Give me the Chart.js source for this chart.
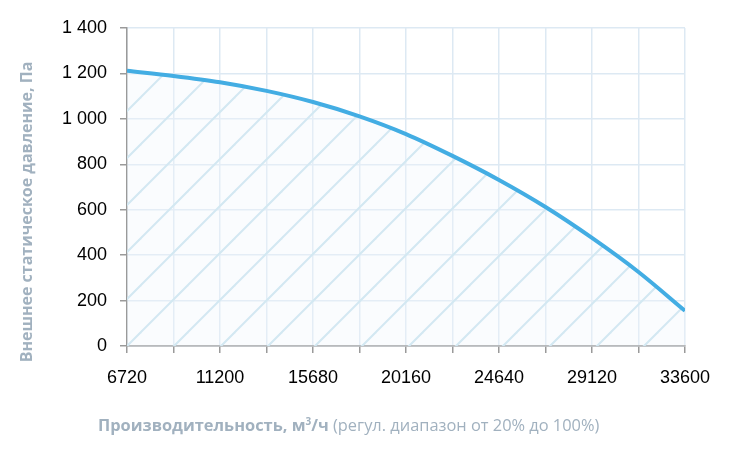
<!DOCTYPE html>
<html>
<head>
<meta charset="utf-8">
<script src="https://cdn.jsdelivr.net/npm/chart.js@4"></script>
<style>
  html, body { margin: 0; padding: 0; background: #fff; }
  #wrap { position: relative; width: 730px; height: 456px; }
  .axtitle {
    position: absolute; font-family: "Open Sans", sans-serif; font-size: 16.4px;
    color: #a1b1bf; white-space: nowrap;
  }
  #xtitle { left: 98px; top: 413px; }
  #xtitle sup { font-size: 10px; font-weight: 700; }
  #ytitle {
    left: -174px; top: 201px; width: 400px; height: 22px; line-height: 22px;
    text-align: center; font-weight: 700; font-size: 16px; transform: rotate(-90deg);
  }
</style>
</head>
<body>
<div id="wrap">
  <canvas id="grafica" width="730" height="456"></canvas>
  <div id="ytitle" class="axtitle">Внешнее статическое давление, Па</div>
  <div id="xtitle" class="axtitle"><b>Производительность, м<sup>3</sup>/ч</b> (регул. диапазон от 20% до 100%)</div>
</div>
<script>
const flow = [6720, 8960, 11200, 13440, 15680, 17920, 20160, 22400, 24640, 26880, 29120, 31360, 33600];
const pressure = [1212, 1189, 1161, 1123, 1074, 1011, 933, 837, 731, 612, 476, 326, 155];
const xLabels = [6720, 11200, 15680, 20160, 24640, 29120, 33600];

// hatch pattern for the area under the curve
function hatch() {
	const c = document.createElement('canvas');
	c.width = 47; c.height = 47;
	const g = c.getContext('2d');
	g.fillStyle = 'rgba(240,247,251,0.35)';
	g.fillRect(0, 0, 47, 47);
	g.strokeStyle = '#d3e8f2';
	g.lineWidth = 2;
	[3, 50, 97].forEach(k => {
		g.beginPath();
		g.moveTo(-10, k + 10);
		g.lineTo(k + 10, -10);
		g.stroke();
	});
	return g.createPattern(c, 'repeat');
}

const graph = document.querySelector('#grafica');

const data = {
	datasets: [{
		data: flow.map((x, i) => ({x: x, y: pressure[i]})),
		borderColor: '#43ade3',
		borderWidth: 4,
		backgroundColor: hatch(),
		fill: 'origin',
		pointRadius: 0,
		cubicInterpolationMode: 'monotone'
	}]
};

const config = {
	type: 'line',
	data: data,
	options: {
		responsive: false,
		animation: false,
		layout: {padding: {top: 28, right: 45, left: 0, bottom: 0}},
		plugins: {legend: {display: false}, tooltip: {enabled: false}},
		scales: {
			x: {
				type: 'linear',
				min: 6720, max: 33600,
				afterFit: s => { s.height = 110; },
				afterBuildTicks: s => { s.ticks = flow.map(v => ({value: v})); },
				ticks: {
					autoSkip: false, maxRotation: 0, padding: 14, color: '#000',
					font: {family: 'Liberation Sans, Arial', size: 18},
					callback: v => xLabels.includes(v) ? String(v) : ''
				},
				grid: {color: '#dde9f3', lineWidth: 1.5, tickColor: '#9a9a9a', tickLength: 7, tickWidth: 1.5},
				border: {color: '#9a9a9a', width: 1.5}
			},
			y: {
				min: 0, max: 1400,
				afterFit: s => { s.width = 127; },
				ticks: {
					stepSize: 200, padding: 13, color: '#000',
					font: {family: 'Liberation Sans, Arial', size: 18},
					callback: v => v >= 1000 ? Math.floor(v / 1000) + ' ' + String(v % 1000).padStart(3, '0') : String(v)
				},
				grid: {color: '#dde9f3', lineWidth: 1.5, tickColor: '#9a9a9a', tickLength: 7, tickWidth: 1.5},
				border: {color: '#9a9a9a', width: 1.5}
			}
		}
	}
};
new Chart(graph, config);
</script>
</body>
</html>
